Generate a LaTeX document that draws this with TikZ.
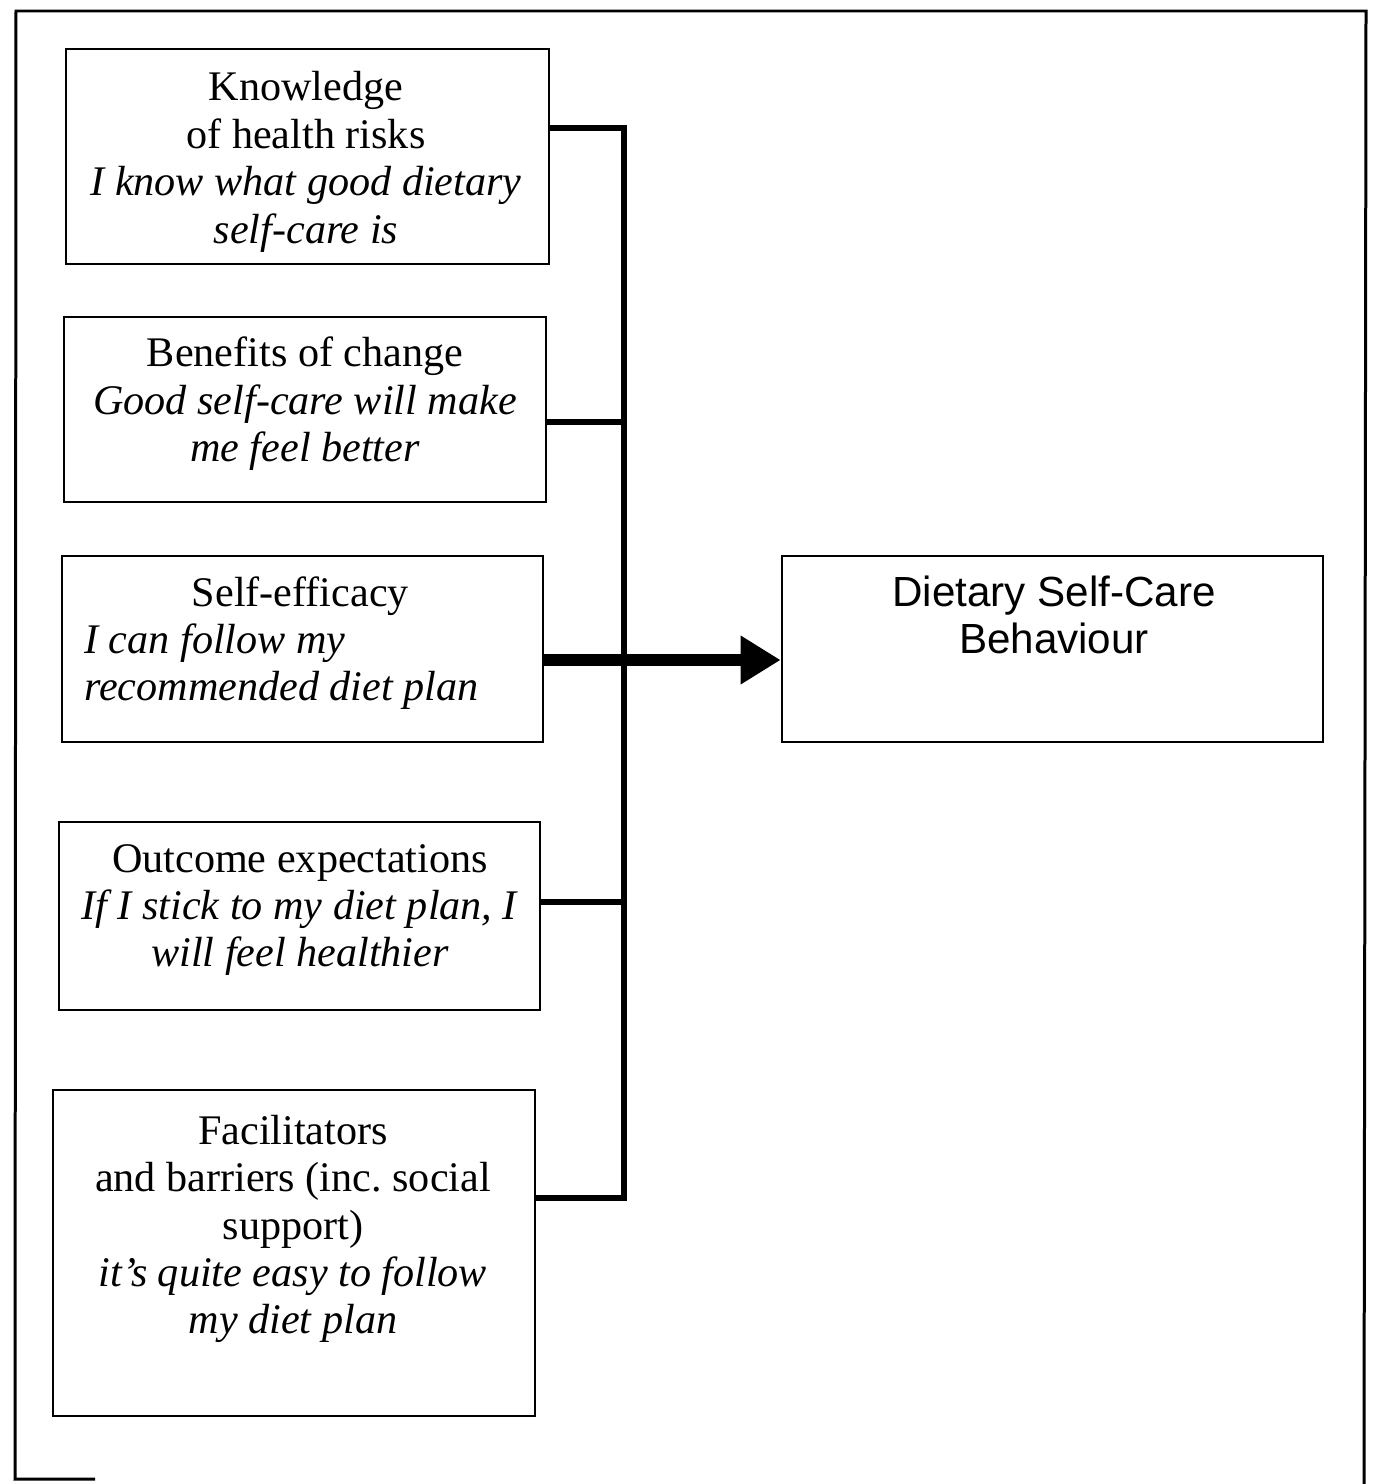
\documentclass[tikz,border=0pt]{standalone}
\usepackage{fontspec}
\setmainfont{Liberation Serif}
\newfontfamily\headsans{Liberation Sans}
\usetikzlibrary{arrows.meta,fit}
\begin{document}
\begin{tikzpicture}[x=0.02cm,y=-0.02cm,
  box/.style={draw, line width=0.055cm, inner sep=0pt},
  txt/.style={inner sep=0pt, align=center, font=\fontsize{24}{27}\selectfont},
  conn/.style={line width=0.13cm, line join=miter},
  mainarrow/.style={line width=0.25cm, -{Triangle[length=0.8cm,width=0.92cm]}},
  frame/.style={line width=0.06cm}]
  \useasboundingbox (0,0) rectangle (1384,1484);

  % outer frame
  \draw[frame] (95,1479) -- (15,1479) -- (16,11) -- (1366,11) -- (1364,1484);

  % factor boxes
  \node[box, fit={(66,49) (549,264)}] (know) {};
  \node[box, fit={(64,317) (546,502)}] (ben) {};
  \node[box, fit={(62,556) (543,742)}] (eff) {};
  \node[box, fit={(59,822) (540,1010)}] (out) {};
  \node[box, fit={(53,1090) (535,1416)}] (fac) {};
  \node[box, fit={(782,556) (1323,742)}] (beh) {};

  % box texts
  \node[txt] (knowt) at (306,162) {Knowledge\\of health risks\\\textit{I know what good dietary}\\\textit{self-care is}};
  \node[txt] (bent) at (305,404) {Benefits of change\\\textit{Good self-care will make}\\\textit{me feel better}};
  \node[txt, anchor=north west, text width=8.64cm, align=flush left] (efft) at (84,576)
    {\makebox[\linewidth][c]{Self-efficacy}\\\textit{I can follow my}\\\textit{recommended diet plan}};
  \node[txt] (outt) at (300,910) {Outcome expectations\\\textit{If I stick to my diet plan, I}\\\textit{will feel healthier}};
  \node[txt] (fact) at (293,1229) {Facilitators\\and barriers (inc.\ social\\support)\\\textit{it’s quite easy to follow}\\\textit{my diet plan}};
  \node[txt, font=\headsans\fontsize{24}{27}\selectfont] (beht) at (1054,615) {Dietary Self-Care\\Behaviour};

  % spine joining the factors
  \coordinate (s1) at (624,128);
  \coordinate (s2) at (624,422);
  \coordinate (s4) at (624,902);
  \coordinate (s5) at (624,1198);
  \coordinate (a) at (624,660);
  \draw[conn] (know.east |- s1) -- (s1) -- (s5) -- (fac.east |- s5);
  \draw[conn] (ben.east |- s2) -- (s2);
  \draw[conn] (out.east |- s4) -- (s4);
  \draw[mainarrow] (eff.east |- a) -- (beh.west |- a);
\end{tikzpicture}
\end{document}
